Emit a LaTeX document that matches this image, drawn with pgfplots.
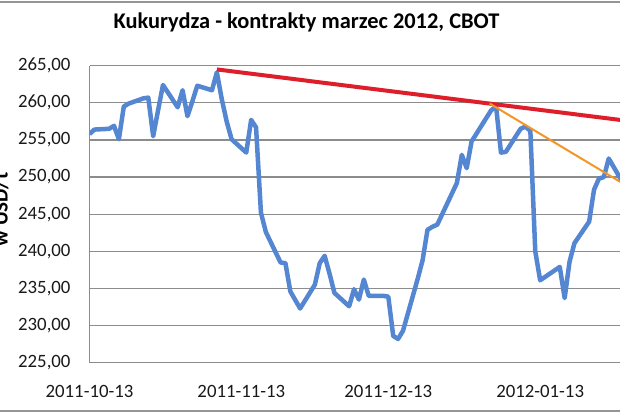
\documentclass[border=0pt]{standalone}
\usepackage{fontspec}
\setmainfont{Carlito}
\usepackage{pgfplots}
\pgfplotsset{compat=1.18}
\definecolor{cblue}{RGB}{84,134,210}
\definecolor{cred}{RGB}{222,30,42}
\definecolor{corange}{RGB}{242,150,40}
\definecolor{cgrid}{RGB}{140,140,140}
\definecolor{cframe}{RGB}{150,150,150}
\pgfplotstableread{
d v
0 255.8
1 256.4
4 256.5
5 256.9
6 255.1
7 259.5
8 259.9
11 260.6
12 260.7
13 255.5
14 259.0
15 262.4
18 259.4
19 261.7
20 258.2
21 260.2
22 262.3
25 261.7
26 264.1
27 260.5
28 257.5
29 255.1
32 253.3
33 257.7
34 256.7
35 245.2
36 242.6
39 238.5
40 238.4
41 234.6
43 232.3
46 235.5
47 238.4
48 239.4
49 237.0
50 234.4
53 232.6
54 234.9
55 233.5
56 236.2
57 234.0
60 234.0
61 233.9
62 228.6
63 228.2
64 229.3
67 236.3
68 238.8
69 242.9
70 243.3
71 243.6
75 249.2
76 253.0
77 251.2
78 254.8
82 259.0
83 259.5
84 253.3
85 253.4
88 256.5
89 256.8
90 256.2
91 240.0
92 236.1
96 237.9
97 233.7
98 238.6
99 241.1
102 244.0
103 248.3
104 249.8
105 250.0
106 252.5
109 249.1
}\corn
\begin{document}
\begin{tikzpicture}
\useasboundingbox (0pt,0pt) rectangle (620pt,413pt);
\draw[cframe, line width=2pt] (0pt,410.8pt) -- (620pt,410.8pt);
\draw[cframe, line width=2pt] (0pt,2.4pt) -- (620pt,2.4pt);
\node[anchor=base, font=\bfseries\fontsize{22.4}{26}\selectfont] at (306.5pt,384pt) {Kukurydza - kontrakty marzec 2012, CBOT};
\node[rotate=90, anchor=base, font=\bfseries\fontsize{21}{24}\selectfont] at (7.5pt,203.5pt) {w USD/t};
\begin{axis}[
  at={(89.5pt,50.3pt)}, anchor=south west,
  width=530.5pt, height=297pt, scale only axis,
  xmin=0, xmax=108.3, ymin=225, ymax=265,
  axis x line*=bottom, axis y line*=left,
  axis line style={-, draw=cgrid, line width=1.3pt},
  xtick={0,31,61,92},
  xticklabels={2011-10-13,2011-11-13,2011-12-13,2012-01-13},
  ytick={225,230,...,265},
  yticklabels={{225,00},{230,00},{235,00},{240,00},{245,00},{250,00},{255,00},{260,00},{265,00}},
  major tick length=0pt,
  ymajorgrids,
  grid style={draw=cgrid, line width=1.3pt},
  tick label style={font=\fontsize{18.8}{22}\selectfont, text=black!90},
  yticklabel style={inner sep=0pt, anchor=east, xshift=-18.8pt},
  xticklabel style={inner sep=0pt, anchor=north, yshift=-22pt},
  clip=true,
]
\addplot[cblue, line width=4.5pt, line join=round] table[x=d, y=v] {\corn};
\addplot[cred, line width=4pt] coordinates {(26,264.5) (110,257.56)};
\addplot[corange, line width=2pt] coordinates {(81.7,259.9) (110,248.7)};
\end{axis}
\end{tikzpicture}
\end{document}
